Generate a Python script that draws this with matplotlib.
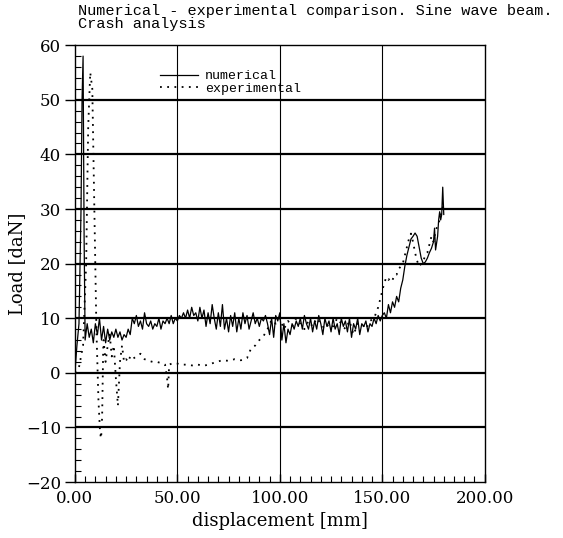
import matplotlib
matplotlib.use("Agg")
import matplotlib.pyplot as plt
from matplotlib.ticker import MultipleLocator, FixedLocator

plt.rcParams['font.family'] = ['DejaVu Serif']

# numerical crash load [daN] vs displacement [mm]
num_x = [0, 1, 2, 3, 3.5, 4, 4.5, 5, 6, 7, 8, 9, 10, 11, 12, 13, 14, 15, 16, 17, 18, 19,
         20, 21, 22, 23, 24, 25, 26, 27, 28, 29, 30, 31, 32, 33, 34, 35, 36, 37, 38, 39,
         40, 41, 42, 43, 44, 45, 46, 47, 48, 49, 50, 51, 52, 53, 54, 55, 56, 57, 58, 59,
         60, 61, 62, 63, 64, 65, 66, 67, 68, 69, 70, 71, 72, 73, 74, 75, 76, 77, 78, 79,
         80, 81, 82, 83, 84, 85, 86, 87, 88, 89, 90, 91, 92, 93, 94, 95, 96, 97, 98, 99,
         100, 101, 102, 103, 104, 105, 106, 107, 108, 109, 110, 111, 112, 113, 114, 115,
         116, 117, 118, 119, 120, 121, 122, 123, 124, 125, 126, 127, 128, 129, 130, 131,
         132, 133, 134, 135, 136, 137, 138, 139, 140, 141, 142, 143, 144, 145, 146, 147,
         148, 149, 150, 151, 152, 153, 154, 155, 156, 157, 158, 159, 160, 161, 162, 163,
         164, 165, 166, 167, 168, 169, 170, 171, 172, 173, 174, 175, 175.5, 176, 177,
         177.5, 178, 178.5, 179, 179.5, 180]
num_y = [0, 5, 9, 30, 50, 58, 25, 6, 9, 6.5, 8, 5.5, 9, 7, 10, 6, 8.5, 5.5, 8, 6, 7.5, 6.5,
         8, 6.5, 7.5, 6, 7, 6.5, 8, 7, 10, 9, 10.5, 8.5, 9.5, 8, 11, 9, 8.5, 9.5, 8, 9,
         8.5, 10, 8, 9.5, 9, 10, 9, 10.5, 9, 10, 9.5, 10.5, 10, 11, 10, 11.5, 10, 12, 10.5, 11,
         9.5, 12, 10, 11.5, 8.5, 11, 9, 12.5, 10, 8, 11, 8.5, 12.5, 8, 10, 7.5, 10.5, 8.5, 11, 7.5,
         10, 8, 11, 9, 10.5, 8, 9.5, 11, 9, 10, 8.5, 10, 9.5, 10.5, 9, 7, 10, 6.5, 10.5, 9.5,
         11, 6, 9, 5.5, 8, 7, 9, 8, 9.5, 8.5, 10, 8, 10.5, 9, 8, 10,
         7.5, 9.5, 8, 10.5, 9, 7, 10, 8.5, 9.5, 7.5, 10, 8, 9, 7, 10, 8.5,
         9.5, 7.5, 10, 6.5, 9, 8, 10, 7, 9, 8.5, 9.5, 7.5, 9, 8.5, 10, 9,
         10.5, 9.5, 10.5, 11, 10, 12.5, 11, 13, 12, 14, 13, 15.5, 17, 19.5, 21.5, 23,
         24.5, 25, 25.6, 25, 23, 21, 20, 20.3, 21, 22, 22.8, 24, 26.5, 22.5, 25,
         28, 29.5, 28, 29, 34, 29]

# experimental crash load [daN] vs displacement [mm]
exp_x = [0, 2, 4, 5.5, 6.5, 7.5, 8.5, 9.5, 10.5, 11.5, 12.3, 12.8, 13.3, 13.8, 14, 15, 16,
         17, 18, 19, 20, 21, 22, 23, 24, 25, 26, 27, 28, 30, 32, 34, 36, 38, 40, 42, 44,
         45, 45.5, 46, 48, 50, 52, 55, 58, 60, 63, 66, 69, 72, 75, 78, 81, 84, 86, 88,
         90, 92, 94, 96, 98, 100, 102, 104, 106, 108, 110, 112, 114, 116, 118, 120, 122,
         124, 126, 128, 130, 132, 134, 136, 138, 140, 142, 144, 146, 147, 148, 149, 150,
         151, 152, 153, 154, 155, 156, 157, 158, 159, 160, 161, 162, 163, 164, 165, 166,
         167, 168, 169, 170, 171, 172, 173, 174, 175, 176, 177, 178, 179, 180]
exp_y = [0, 1, 5, 20, 45, 55, 52, 30, 8, -5, -11, -12, -8, 4, 6, 2, 5,
         7, 3, 5, -1, -6, 2, 5, 2, 2.5, 2, 3, 2.5, 3, 3.5, 2.5, 2.2, 2, 2, 1.8, 1.5,
         -1, -3, 1.5, 1.8, 1.7, 1.5, 1.5, 1.3, 1.5, 1.3, 1.6, 2, 2.3, 2.2, 2.5, 2.3, 2.7, 4.5, 5,
         6, 6.7, 8, 9.7, 9, 10, 8, 9.5, 8.5, 10, 9, 8, 9.5, 8.5, 10, 9, 8,
         9, 8.5, 10, 9, 8, 9.5, 7, 9, 9, 8, 9.5, 10, 11, 12, 13.5, 15,
         16.5, 17.5, 17, 17.5, 17, 18, 18, 19, 19.5, 20, 21.5, 23, 24.5, 25.5, 24, 22,
         20.5, 19.5, 20, 20.5, 21.5, 22, 23.5, 25, 24, 26, 27, 28, 29.5, 31]

x_ticks = [0, 50, 100, 150, 200]
x_tick_labels = ["0.00", "50.00", "100.00", "150.00", "200.00"]
y_ticks = [-20, -10, 0, 10, 20, 30, 40, 50, 60]
y_tick_labels = ["\u221220", "\u221210", "0", "10", "20", "30", "40", "50", "60"]

fig = plt.figure(figsize=(5.63, 5.38), dpi=100)
ax = fig.add_axes([0.133, 0.104, 0.728, 0.812])

ax.set_xlim(0, 200)
ax.set_ylim(-20, 60)

# grid: heavy horizontal rules, thin vertical ones
for yv in y_ticks[1:-1]:
    ax.axhline(yv, color='black', lw=1.6, zorder=1)
for xv in x_ticks[1:-1]:
    ax.axvline(xv, color='black', lw=0.8, zorder=1)

ax.plot(num_x, num_y, color='black', lw=0.9, label='numerical', zorder=3)
ax.plot(exp_x, exp_y, color='black', lw=1.3, linestyle=(0, (1, 3)),
        label='experimental', zorder=3)

ax.xaxis.set_major_locator(FixedLocator(x_ticks))
ax.set_xticklabels(x_tick_labels)
ax.yaxis.set_major_locator(FixedLocator(y_ticks))
ax.set_yticklabels(y_tick_labels)
ax.xaxis.set_minor_locator(MultipleLocator(5))
ax.yaxis.set_minor_locator(MultipleLocator(2))
ax.tick_params(axis='both', which='major', labelsize=12, width=1)
ax.tick_params(axis='y', which='major', direction='out', length=7, pad=3)
ax.tick_params(axis='x', which='major', direction='in', length=6, pad=6)
ax.tick_params(axis='both', which='minor', direction='in', length=4, width=0.8)
for s in ax.spines.values():
    s.set_linewidth(1.0)

ax.set_xlabel("displacement [mm]", fontsize=13, labelpad=3)
ax.set_ylabel("Load [daN]", fontsize=13)
ax.yaxis.set_label_coords(-0.12, 0.5)

ax.legend(loc='upper left', bbox_to_anchor=(0.195, 0.955), frameon=False,
          prop={'family': 'Liberation Mono', 'size': 9.5},
          handlelength=2.9, handletextpad=0.5, labelspacing=0.0,
          borderaxespad=0)

fig.text(0.139, 0.992, "Numerical - experimental comparison. Sine wave beam.\nCrash analysis",
         ha='left', va='top', fontsize=11, family='Liberation Mono', linespacing=0.85)

fig.savefig("out.png", dpi=100)
